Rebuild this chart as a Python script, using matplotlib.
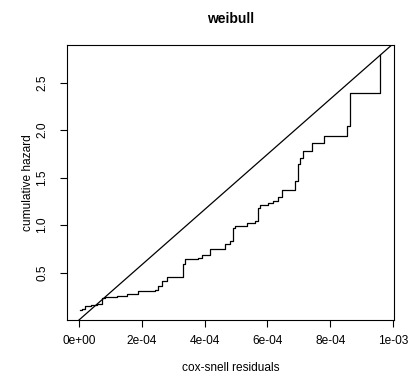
import matplotlib.pyplot as plt
import numpy as np

# Data -----------------------------------------------------------------------

# cox-snell residuals (x) and cumulative hazard (y) of the step curve
resid = np.array([0.02, 0.10, 0.19, 0.40, 0.56, 0.72, 0.83, 1.20, 1.52, 1.88,
                  2.42, 2.52, 2.63, 2.79, 3.15, 3.32, 3.38, 3.79, 3.91, 4.17,
                  4.49, 4.65, 4.81, 4.91, 4.97, 5.34, 5.61, 5.71, 5.76, 6.03,
                  6.19, 6.35, 6.46, 6.88, 6.98, 7.04, 7.14, 7.41, 7.80, 8.54,
                  8.63, 9.59]) * 1e-4
cumhaz = np.array([0.108, 0.115, 0.15, 0.16, 0.17, 0.23, 0.24, 0.255, 0.27, 0.31,
                   0.32, 0.36, 0.41, 0.45, 0.45, 0.59, 0.64, 0.65, 0.69, 0.745,
                   0.75, 0.80, 0.83, 0.97, 0.99, 1.02, 1.04, 1.18, 1.21, 1.23,
                   1.25, 1.30, 1.37, 1.46, 1.64, 1.71, 1.78, 1.86, 1.94, 2.04,
                   2.39, 2.79])

x_ticks = [0, 2e-4, 4e-4, 6e-4, 8e-4, 1e-3]
x_labels = ['0e+00', '2e-04', '4e-04', '6e-04', '8e-04', '1e-03']
y_ticks = [0.5, 1.0, 1.5, 2.0, 2.5]
y_labels = ['0.5', '1.0', '1.5', '2.0', '2.5']

# Plot -----------------------------------------------------------------------

plt.rcParams['font.family'] = ['Liberation Sans', 'DejaVu Sans']

fig = plt.figure(figsize=(4.1, 3.8), dpi=100)
ax = fig.add_axes([0.1634, 0.158, 0.7976, 0.7236])

ax.step(resid, cumhaz, where='post', color='black', lw=0.9)
ax.axline((0, 0), slope=cumhaz[-1] / resid[-1], color='black', lw=0.9)

ax.set_xlim(-3.8e-5, 1.003e-3)
ax.set_ylim(0.001, 2.897)

ax.set_xticks(x_ticks)
ax.set_xticklabels(x_labels, fontsize=8.6)
ax.set_yticks(y_ticks)
ax.set_yticklabels(y_labels, fontsize=8.6, rotation=90, va='center')
ax.tick_params(direction='out', length=5, width=0.8)
ax.tick_params(axis='x', pad=5.5)
ax.tick_params(axis='y', pad=8.5)
for s in ax.spines.values():
    s.set_linewidth(0.8)

ax.set_xlabel('cox-snell residuals', fontsize=8.6, labelpad=11)
ax.set_ylabel('cumulative hazard', fontsize=8.6, labelpad=1.5)
ax.set_title('weibull', fontsize=10, fontweight='bold', pad=16)

fig.savefig('out.png', dpi=100)
